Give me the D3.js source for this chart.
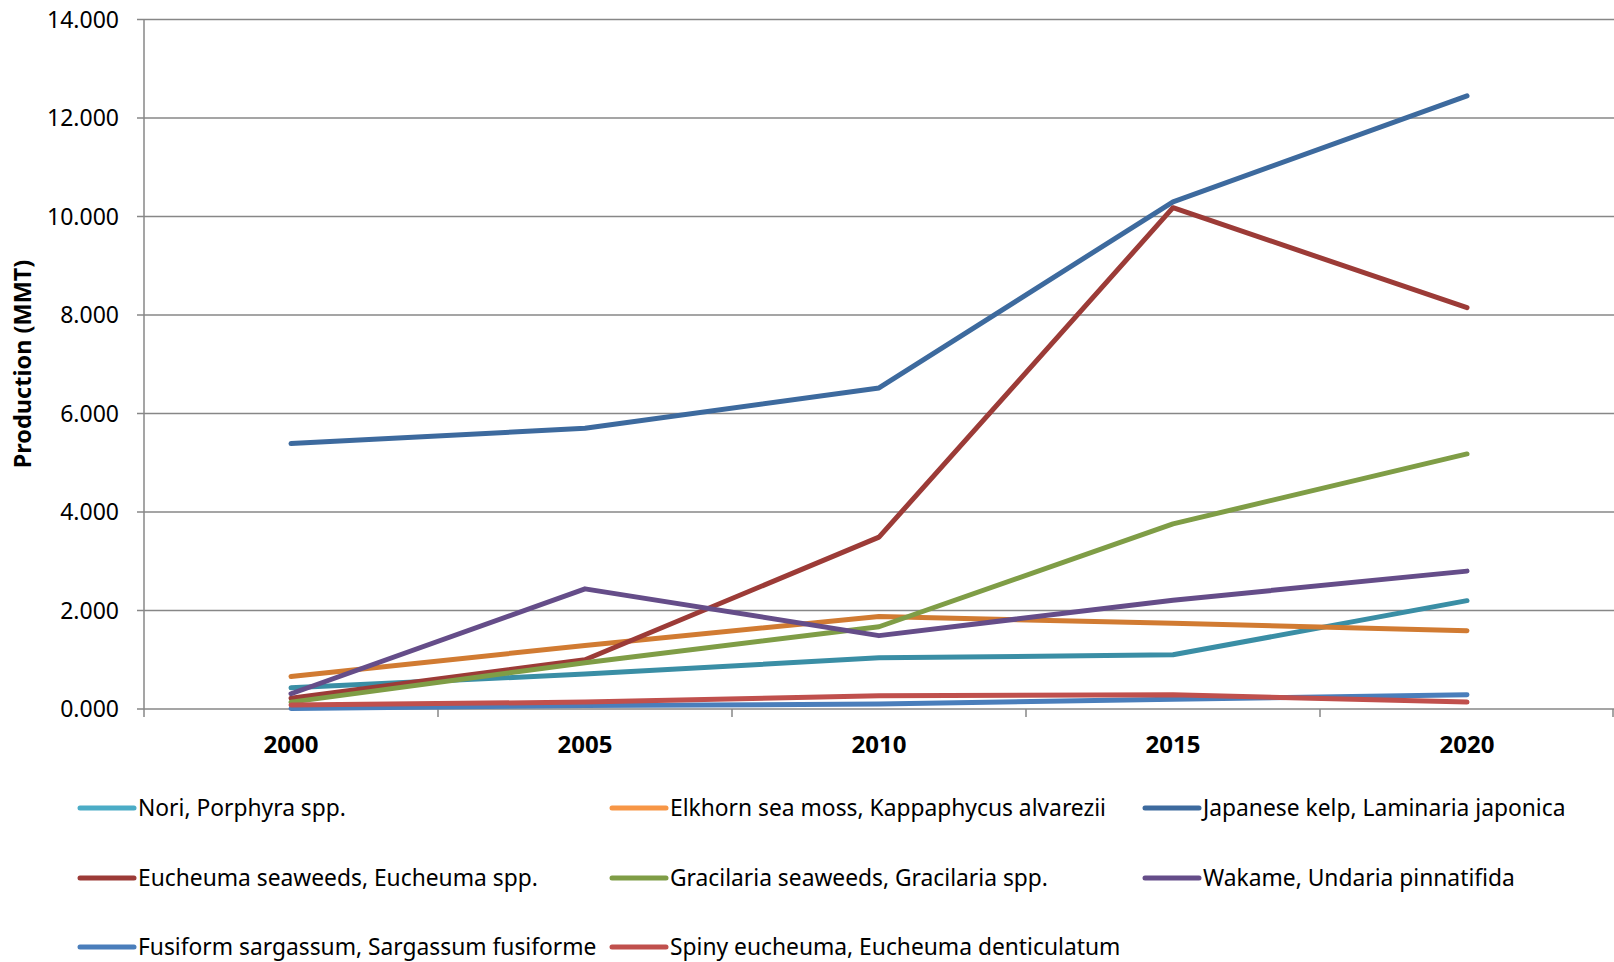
<!DOCTYPE html>
<meta charset="utf-8">
<script src="https://d3js.org/d3.v7.min.js"></script>
<style>
  body { margin: 0; background: #fff; }
  text { font-family: "Noto Sans", sans-serif; fill: #000; }
</style>
<div id="chart"></div>
<script>

// years on the x axis
var years = ["2000", "2005", "2010", "2015", "2020"];

// y axis ticks
var yTicks = [0, 2, 4, 6, 8, 10, 12, 14];

// series names (legend order)
var seriesNames = [
  "Nori, Porphyra spp.",
  "Elkhorn sea moss, Kappaphycus alvarezii",
  "Japanese kelp, Laminaria japonica",
  "Eucheuma seaweeds, Eucheuma spp.",
  "Gracilaria seaweeds, Gracilaria spp.",
  "Wakame, Undaria pinnatifida",
  "Fusiform sargassum, Sargassum fusiforme",
  "Spiny eucheuma, Eucheuma denticulatum"
];

// production values (MMT)
var nori       = [0.43, 0.71, 1.04, 1.10, 2.20];
var elkhorn    = [0.66, 1.29, 1.88, 1.74, 1.59];
var kelp       = [5.39, 5.70, 6.52, 10.30, 12.45];
var eucheuma   = [0.22, 1.00, 3.49, 10.18, 8.15];
var gracilaria = [0.14, 0.94, 1.67, 3.76, 5.18];
var wakame     = [0.31, 2.44, 1.49, 2.21, 2.80];
var fusiform   = [0.01, 0.07, 0.10, 0.20, 0.29];
var spiny      = [0.08, 0.14, 0.27, 0.29, 0.14];

var seriesValues = [nori, elkhorn, kelp, eucheuma, gracilaria, wakame, fusiform, spiny];

var lineColors   = ["#3A8EA5", "#D17B32", "#3D6A9E", "#9C3B37", "#7F9D46", "#654D89", "#4A7EBB", "#C0504D"];
var legendColors = ["#4BACC6", "#F79646", "#3D6A9E", "#9C3B37", "#7F9D46", "#654D89", "#4A7EBB", "#C0504D"];

var W = 1614, H = 962;

var svg = d3.select("#chart")
  .append("svg")
    .attr("width", W)
    .attr("height", H);

// plot area
var plot = {left: 144, right: 1614, top: 19.6, bottom: 709};

var x = d3.scaleBand()
  .domain(years)
  .range([plot.left, plot.right]);

var y = d3.scaleLinear()
  .domain([0, 14])
  .range([plot.bottom, plot.top]);

// gridlines
svg.append("g")
  .selectAll("line")
  .data(yTicks)
  .enter()
  .append("line")
    .attr("x1", plot.left - 7)
    .attr("x2", plot.right)
    .attr("y1", function(d) { return y(d); })
    .attr("y2", function(d) { return y(d); })
    .attr("stroke", "#878787")
    .attr("stroke-width", 1.5);

// y axis line
svg.append("line")
  .attr("x1", plot.left).attr("x2", plot.left)
  .attr("y1", plot.top).attr("y2", plot.bottom)
  .attr("stroke", "#878787")
  .attr("stroke-width", 1.5);

// y tick labels
svg.append("g")
  .selectAll("text")
  .data(yTicks)
  .enter()
  .append("text")
    .attr("x", 119)
    .attr("y", function(d) { return y(d); })
    .attr("dy", "0.35em")
    .attr("text-anchor", "end")
    .style("font-size", "23px")
    .text(function(d) { return d3.format(".3f")(d); });

// x axis ticks between categories
var xTickPos = years.map(function(d) { return x(d); }).concat([plot.right - 1]);
svg.append("g")
  .selectAll("line")
  .data(xTickPos)
  .enter()
  .append("line")
    .attr("x1", function(d) { return d; })
    .attr("x2", function(d) { return d; })
    .attr("y1", plot.bottom)
    .attr("y2", plot.bottom + 8)
    .attr("stroke", "#878787")
    .attr("stroke-width", 1.5);

// x labels
svg.append("g")
  .selectAll("text")
  .data(years)
  .enter()
  .append("text")
    .attr("x", function(d) { return x(d) + x.bandwidth() / 2; })
    .attr("y", plot.bottom + 44)
    .attr("text-anchor", "middle")
    .style("font-size", "24px")
    .style("font-weight", "bold")
    .text(function(d) { return d; });

// y axis title
svg.append("text")
  .attr("transform", "translate(31," + 364 + ") rotate(-90)")
  .attr("text-anchor", "middle")
  .style("font-size", "23.5px")
  .style("font-weight", "bold")
  .text("Production (MMT)");

// lines
var line = d3.line()
  .x(function(d, i) { return x(years[i]) + x.bandwidth() / 2; })
  .y(function(d) { return y(d); });

svg.append("g")
  .selectAll("path")
  .data(seriesValues)
  .enter()
  .append("path")
    .attr("d", line)
    .attr("fill", "none")
    .attr("stroke", function(d, i) { return lineColors[i]; })
    .attr("stroke-width", 5)
    .attr("stroke-linecap", "round")
    .attr("stroke-linejoin", "round");

// legend, 3 columns
var legCols = [80, 612, 1145];
var legRows = [808, 878, 947];

var leg = svg.append("g")
  .selectAll("g")
  .data(seriesNames)
  .enter()
  .append("g")
    .attr("transform", function(d, i) {
      return "translate(" + legCols[i % 3] + "," + legRows[Math.floor(i / 3)] + ")";
    });

leg.append("line")
  .attr("x1", 0).attr("x2", 54)
  .attr("y1", 0).attr("y2", 0)
  .attr("stroke", function(d, i) { return legendColors[i]; })
  .attr("stroke-width", 5)
  .attr("stroke-linecap", "round");

leg.append("text")
  .attr("x", 58)
  .attr("y", 0)
  .attr("dy", "0.35em")
  .style("font-size", "22.8px")
  .text(function(d) { return d; });

</script>
